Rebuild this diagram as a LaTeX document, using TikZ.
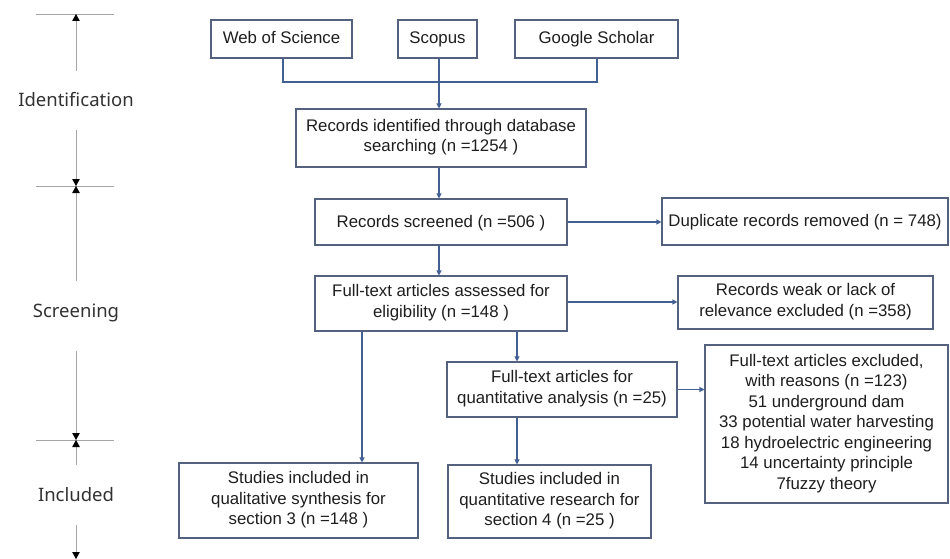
\documentclass[tikz,border=0pt]{standalone}
\usepackage{fontspec}
\setmainfont{Liberation Sans}
\newfontfamily\labelfont{Noto Sans}
\usetikzlibrary{arrows.meta}
\definecolor{boxc}{RGB}{84,98,128}
\definecolor{arrc}{RGB}{66,96,148}
\definecolor{scalec}{RGB}{165,165,165}
\definecolor{txtc}{RGB}{30,30,30}
\definecolor{lblc}{RGB}{50,50,50}
\newcommand{\boxstrut}{\rule[-5pt]{0pt}{20pt}}
\begin{document}
\begin{tikzpicture}[x=1pt,y=-1pt,
  box/.style={draw=boxc,line width=1.1pt,fill=white,inner sep=0pt,align=center,text=txtc,
    font=\fontsize{16.8}{20.5}\selectfont,
    execute at begin node=\boxstrut, execute at end node=\boxstrut},
  conn/.style={draw=arrc,line width=1.1pt},
  arr/.style={conn,-{Triangle[length=5pt,width=5pt]}},
  scl/.style={draw=scalec,line width=0.9pt},
  sarr/.style={scl,-{Triangle[length=7pt,width=7.5pt,color=black]}},
  lbl/.style={text=lblc,font=\labelfont\fontsize{18.5}{22}\selectfont,inner sep=0pt}
]
\useasboundingbox (0,0) rectangle (950,559);
% boxes
\node[box,minimum width=141pt,minimum height=38pt] (wos) at (281.5,39) {Web of Science};
\node[box,minimum width=79pt,minimum height=38pt] (scopus) at (437.5,39) {Scopus};
\node[box,minimum width=163pt,minimum height=38pt] (google) at (596.5,39) {Google Scholar};
\node[box,minimum width=290pt,minimum height=58pt] (ident) at (441,138) {Records identified through database\\searching (n =1254 )};
\node[box,minimum width=252pt,minimum height=46pt] (screen) at (441,222) {Records screened (n =506 )};
\node[box,minimum width=286pt,minimum height=47pt] (dup) at (805,221.5) {Duplicate records removed (n = 748)};
\node[box,minimum width=252pt,minimum height=55pt] (assess) at (441,303.5) {Full-text articles assessed for\\eligibility (n =148 )};
\node[box,minimum width=255pt,minimum height=53pt] (weak) at (805.5,302.5) {Records weak or lack of\\relevance excluded (n =358)};
\node[box,minimum width=230pt,minimum height=55pt] (quant) at (562,389.5) {Full-text articles for\\quantitative analysis (n =25)};
\node[box,minimum width=243pt,minimum height=158pt] (excl) at (826.5,424) {Full-text articles excluded,\\with reasons (n =123)\\51 underground dam\\33 potential water harvesting\\18 hydroelectric engineering\\14 uncertainty principle\\7fuzzy theory};
\node[box,minimum width=239pt,minimum height=75pt] (qual) at (298.5,500.5) {Studies included in\\qualitative synthesis for\\section 3 (n =148 )};
\node[box,minimum width=203pt,minimum height=73pt] (qres) at (549.5,501.5) {Studies included in\\quantitative research for\\section 4 (n =25 )};
% connectors
\coordinate (b1) at (283,82);
\coordinate (b2) at (597,82);
\draw[conn] (wos.south -| b1) -- (b1) -- (b2) -- (google.south -| b2);
\draw[arr] (scopus.south -| 439,0) -- (ident.north -| 439,0);
\draw[arr] (ident.south -| 439,0) -- (screen.north -| 439,0);
\draw[arr] (screen.south -| 439,0) -- (assess.north -| 439,0);
\draw[arr] (screen.east) -- (dup.west |- screen.east);
\draw[arr] (assess.east |- 0,302) -- (weak.west |- 0,302);
\draw[arr] (quant.east) -- (excl.west |- quant.east);
\draw[arr] (assess.south -| 362,0) -- (qual.north -| 362,0);
\draw[arr] (assess.south -| 517,0) -- (quant.north -| 517,0);
\draw[arr] (quant.south -| 517,0) -- (qres.north -| 517,0);
% stage scale
\coordinate (t0) at (76,14);
\coordinate (t1) at (76,186);
\coordinate (t2) at (76,440);
\draw[scl] (36,14) -- (114,14);
\draw[scl] (36,186) -- (114,186);
\draw[scl] (36,440) -- (114,440);
\node[lbl] (lid) at (76,100) {Identification};
\node[lbl] (lsc) at (76,313) {Screening};
\node[lbl] (lin) at (76,495) {Included};
\coordinate (a1) at (76,71);
\coordinate (a2) at (76,130);
\coordinate (a3) at (76,281);
\coordinate (a4) at (76,351);
\coordinate (a5) at (76,465);
\coordinate (a6) at (76,525);
\coordinate (a7) at (76,559);
\draw[sarr] (a1) -- (t0);
\draw[sarr] (a2) -- (t1);
\draw[sarr] (a3) -- (t1);
\draw[sarr] (a4) -- (t2);
\draw[sarr] (a5) -- (t2);
\draw[sarr] (a6) -- (a7);
\end{tikzpicture}
\end{document}
